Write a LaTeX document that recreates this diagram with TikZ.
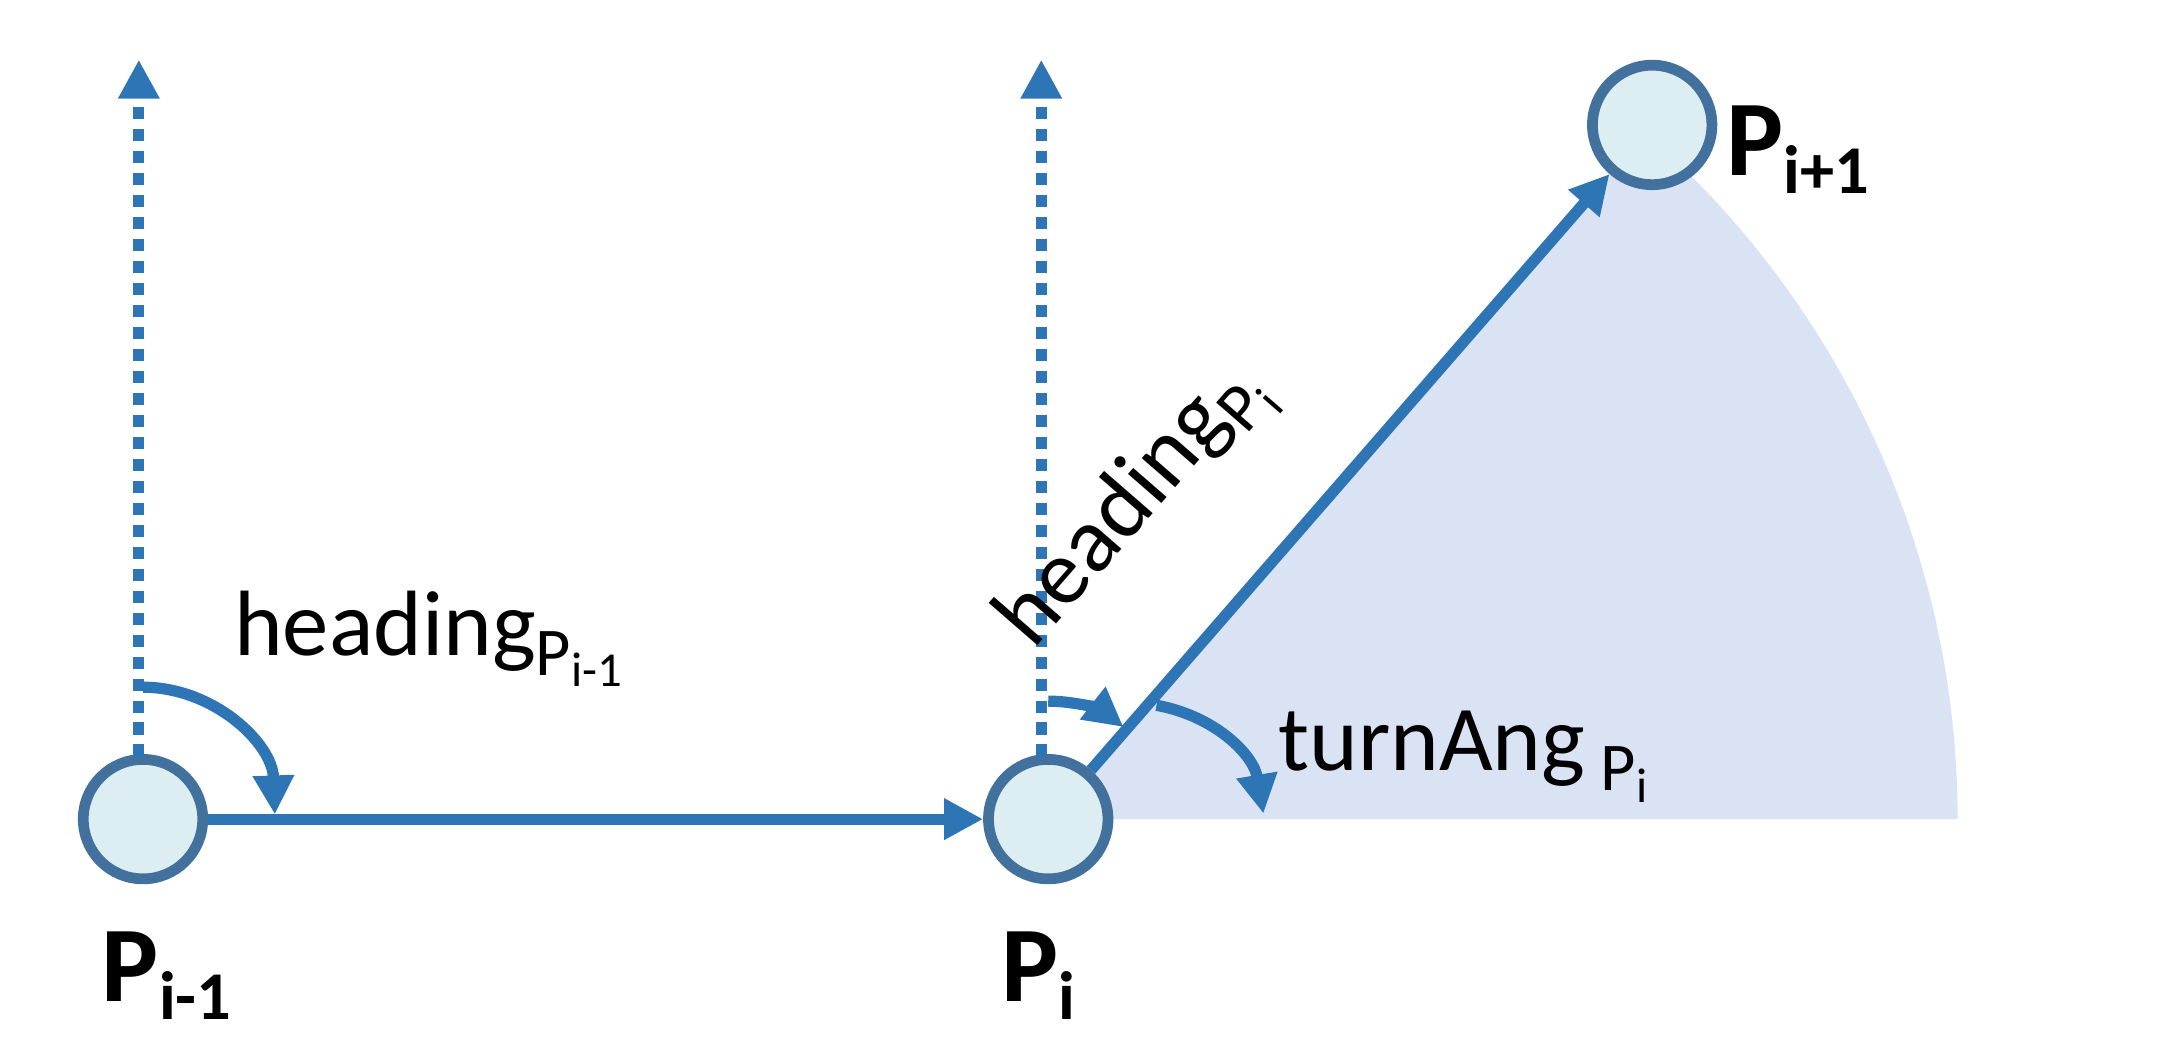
\documentclass[tikz,border=0pt]{standalone}
\usepackage{fontspec}
\setmainfont{Carlito}
\usetikzlibrary{arrows.meta}
\definecolor{lineblue}{HTML}{2E75B6}
\definecolor{sector}{HTML}{DAE3F3}
\definecolor{cfill}{HTML}{DDEEF3}
\definecolor{cborder}{HTML}{41719C}
\tikzset{
  pt/.style={circle,draw=cborder,fill=cfill,line width=2.2pt,minimum size=0.86cm,inner sep=0pt},
  conn/.style={draw=lineblue,line width=2.3pt,-{Triangle[length=8pt,width=8pt]}},
  dots/.style={draw=lineblue,line width=2.3pt,dash pattern=on 2.5pt off 2pt,-{Triangle[length=8pt,width=8pt]}},
  lbl/.style={font=\fontsize{19}{22}\selectfont,inner sep=0pt},
  plbl/.style={font=\fontsize{22}{26}\selectfont\bfseries,inner sep=0pt}
}
\newcommand{\mysub}[1]{\raisebox{-0.45ex}{\fontsize{14}{16}\selectfont P\raisebox{-0.35ex}{\fontsize{10}{12}\selectfont #1}}}
\newcommand{\mypsub}[1]{P\raisebox{-0.35ex}{\fontsize{14}{16}\selectfont #1}}
\begin{document}
\begin{tikzpicture}[x=0.01cm,y=0.01cm]
\useasboundingbox (0,0) rectangle (1568,758);
\fill[sector] (755,168) -- (1410,168) arc[start angle=0,end angle=49,radius=655] -- cycle;
\node[pt] (pa) at (103,168) {};
\node[pt] (pb) at (755,168) {};
\node[pt] (pc) at (1190,668) {};
\coordinate (ta) at (100,715);
\coordinate (tb) at (750,715);
\draw[dots] (100,213) -- (ta);
\draw[dots] (750,213) -- (tb);
\draw[conn] (pa) -- (pb);
\draw[conn] (pb) -- (pc);
\draw[conn] (103,263) arc[start angle=90,end angle=2,radius=95];
\draw[conn] (755,253) arc[start angle=90,end angle=52,radius=88];
\coordinate (ts) at (833,250);
\coordinate (te) at (910,172);
\draw[conn] (ts) to[bend left=35] (te);
\node[plbl] (la) at (120,55) {\mypsub{i-1}};
\node[plbl] (lb) at (748,55) {\mypsub{i}};
\node[plbl] (lc) at (1295,650) {\mypsub{i+1}};
\node[lbl,anchor=west] (ha) at (168,298) {heading\mysub{i-1}};
\node[lbl,rotate=49] (hb) at (818,392) {heading\mysub{i}};
\node[lbl,anchor=west] (tn) at (920,213) {turnAng\,\mysub{i}};
\end{tikzpicture}
\end{document}
